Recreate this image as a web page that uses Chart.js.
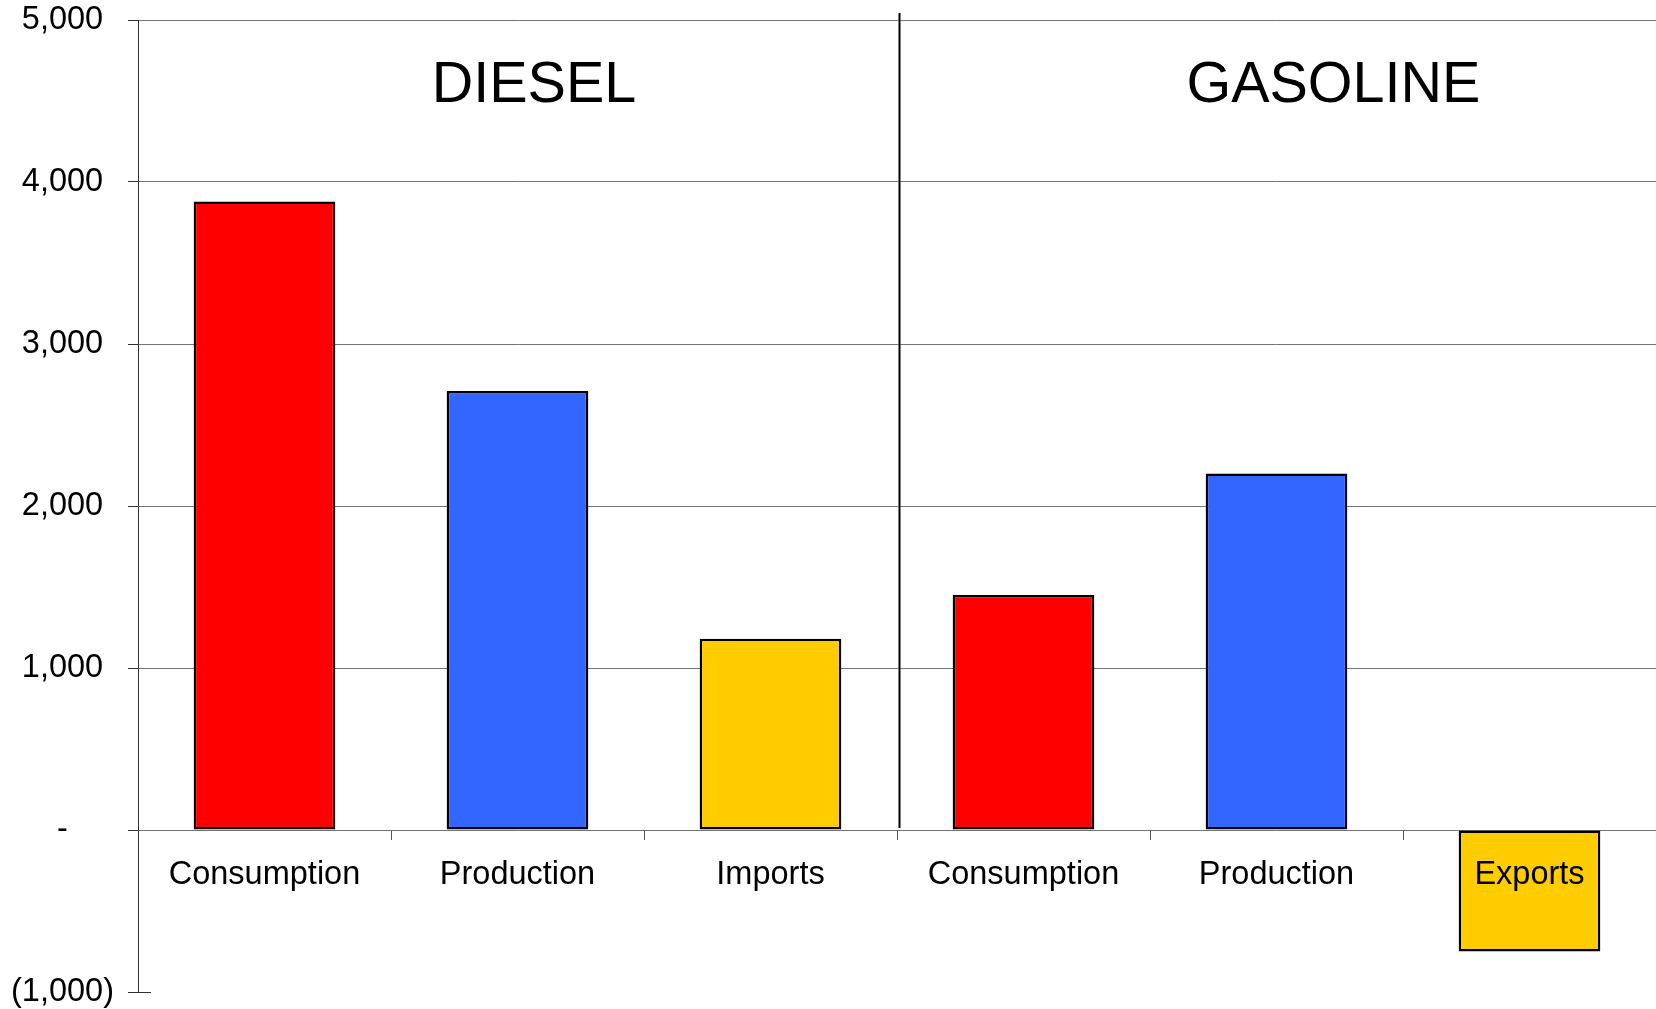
<!DOCTYPE html>
<html>
<head>
<meta charset="utf-8">
<script src="https://cdn.jsdelivr.net/npm/chart.js@4"></script>
<style>
html,body{margin:0;padding:0;background:#fff;}
#wrap{width:1656px;height:1009px;position:relative;overflow:hidden;}
</style>
</head>
<body>
<div id="wrap"><canvas id="c" width="1656" height="1009"></canvas></div>
<script>
const categories = ['Consumption', 'Production', 'Imports', 'Consumption', 'Production', 'Exports'];
const values = [3880, 2710, 1180, 1450, 2200, -750];
const barColors = ['#FF0000', '#3366FF', '#FFCC00', '#FF0000', '#3366FF', '#FFCC00'];
const groupTitles = ['DIESEL', 'GASOLINE'];
const yTickValues = [-1000, 0, 1000, 2000, 3000, 4000, 5000];
const yTickLabels = ['(1,000)', '-', '1,000', '2,000', '3,000', '4,000', '5,000'];

const FONT = "'Liberation Sans', Arial, Helvetica, sans-serif";

const overlay = {
  id: 'overlay',
  afterDatasetsDraw(chart) {
    const ctx = chart.ctx;
    const x = chart.scales.x, y = chart.scales.y;
    const step = x.getPixelForValue(1) - x.getPixelForValue(0);
    const divX = (x.getPixelForValue(2) + x.getPixelForValue(3)) / 2 + 2.5;
    ctx.save();
    // divider
    ctx.strokeStyle = '#000';
    ctx.lineWidth = 2;
    ctx.beginPath();
    ctx.moveTo(divX, chart.chartArea.top - 7);
    ctx.lineTo(divX, y.getPixelForValue(0) - 2);
    ctx.stroke();
    // short tick into plot at bottom
    ctx.strokeStyle = '#333';
    ctx.lineWidth = 1;
    const yb = Math.round(y.getPixelForValue(-1000)) + 0.5;
    ctx.beginPath();
    ctx.moveTo(chart.chartArea.left, yb);
    ctx.lineTo(chart.chartArea.left + 13, yb);
    ctx.stroke();
    // group titles
    ctx.fillStyle = '#000';
    ctx.font = '57.5px ' + FONT;
    ctx.textAlign = 'center';
    ctx.textBaseline = 'middle';
    const x0 = x.getPixelForValue(0);
    ctx.fillText(groupTitles[0], x0 + 1.065 * step, 86);
    ctx.fillText(groupTitles[1], x0 + 4.225 * step, 86);
    ctx.restore();
  }
};

new Chart(document.getElementById('c'), {
  type: 'bar',
  data: {
    labels: categories,
    datasets: [{
      data: values,
      backgroundColor: barColors,
      borderColor: '#000',
      borderWidth: 2.5,
      borderSkipped: false,
      categoryPercentage: 1.0,
      barPercentage: 0.56
    }]
  },
  options: {
    responsive: false,
    animation: false,
    events: [],
    layout: { padding: { top: 20, right: -3, bottom: 17, left: 0 } },
    plugins: { legend: { display: false }, tooltip: { enabled: false }, title: { display: false } },
    scales: {
      x: {
        position: { y: 0 },
        afterFit(scale) { scale.paddingLeft = 0; scale.paddingRight = 0; scale.paddingTop = 0; scale.paddingBottom = 0; },
        border: { display: false },
        grid: {
          offset: true,
          drawOnChartArea: false,
          drawTicks: true,
          tickLength: 10,
          tickColor: '#555',
          lineWidth: 1
        },
        ticks: {
          z: 1,
          color: '#000',
          padding: 16,
          maxRotation: 0,
          autoSkip: false,
          font: { family: FONT, size: 32.5 }
        }
      },
      y: {
        min: -1000,
        max: 5000,
        afterFit(scale) { scale.width = 138; scale.paddingTop = 0; scale.paddingBottom = 0; },
        afterBuildTicks(scale) { scale.ticks = yTickValues.map(v => ({ value: v })); },
        border: { display: true, color: '#333', width: 1 },
        grid: {
          color: (c) => (c.tick && c.tick.value === -1000) ? 'rgba(0,0,0,0)' : '#737373',
          tickColor: '#333',
          tickLength: 10,
          lineWidth: 1
        },
        ticks: {
          color: '#000',
          padding: 14,
          crossAlign: 'center',
          font: { family: FONT, size: 32.5 },
          callback: (v) => {
            const i = yTickValues.indexOf(v);
            return i >= 0 ? yTickLabels[i] : '';
          }
        }
      }
    }
  },
  plugins: [overlay]
});
</script>
</body>
</html>
